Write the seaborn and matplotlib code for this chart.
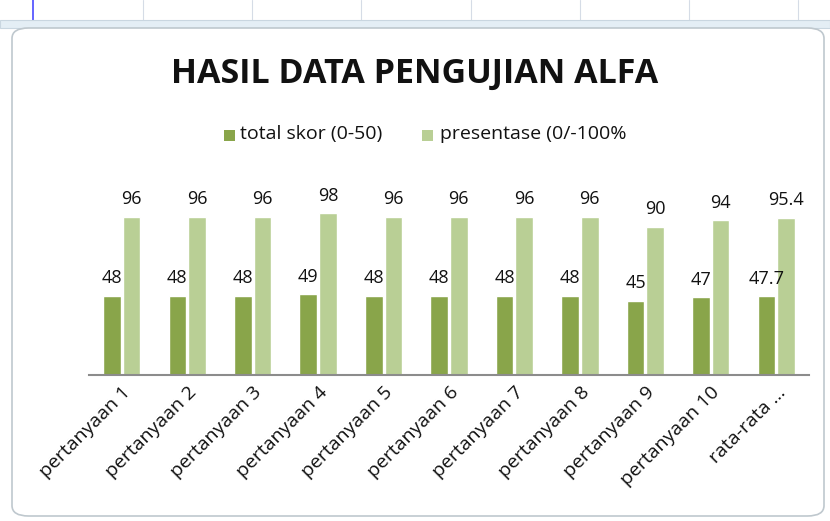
import numpy as np
import pandas as pd
import matplotlib.pyplot as plt
import seaborn as sns
from matplotlib.patches import FancyBboxPatch, Rectangle

categories = ["pertanyaan 1", "pertanyaan 2", "pertanyaan 3", "pertanyaan 4", "pertanyaan 5",
              "pertanyaan 6", "pertanyaan 7", "pertanyaan 8", "pertanyaan 9", "pertanyaan 10",
              "rata-rata ..."]
total_skor = [48, 48, 48, 49, 48, 48, 48, 48, 45, 47, 47.7]
presentase = [96, 96, 96, 98, 96, 96, 96, 96, 90, 94, 95.4]
series_names = ["total skor (0-50)", "presentase (0/-100%"]
colors = ["#89A54A", "#B9CF95"]

df = pd.DataFrame({"kategori": categories, series_names[0]: total_skor, series_names[1]: presentase})
df = df.melt(id_vars="kategori", var_name="seri", value_name="nilai")

sns.set_style("white")
plt.rcParams['font.family'] = ['Open Sans', 'DejaVu Sans']

fig = plt.figure(figsize=(8.3, 5.21), dpi=100)

# spreadsheet look around the chart
fig.patches.append(Rectangle((0, 0.946), 1, 0.016, transform=fig.transFigure,
                             facecolor="#E4EEF5", edgecolor="#C9D6E0", lw=0.8, zorder=-10))
for gx in [143, 252, 361, 471, 580, 689, 798]:
    fig.add_artist(plt.Line2D([gx / 830, gx / 830], [0.962, 1], color="#D5DCE6", lw=0.8, zorder=-10))
fig.add_artist(plt.Line2D([33 / 830, 33 / 830], [0.962, 1], color="#4A4AFF", lw=1.2, zorder=-10))
fig.patches.append(FancyBboxPatch((12 / 830, 5 / 521), 812 / 830, 488 / 521,
                                  boxstyle="round,pad=0,rounding_size=0.02",
                                  transform=fig.transFigure, facecolor="white",
                                  edgecolor="#BFC8CE", lw=1.2, zorder=-10))

ax = fig.add_axes([89 / 830, 146 / 521, 720 / 830, 165 / 521])
ax.set_zorder(5)
ax.patch.set_alpha(0)
sns.barplot(data=df, x="kategori", y="nilai", hue="seri", palette=colors, saturation=1,
            width=0.6, gap=0.1, ax=ax, legend=False)

for cont in ax.containers:
    labels = [f"{v:g}" for v in cont.datavalues]
    ax.bar_label(cont, labels=labels, padding=6, fontsize=13, color="#111111")

ax.set_ylim(0, 100)
ax.set_xlim(-0.5, 10.5)
ax.set_xlabel("")
ax.set_ylabel("")
ax.set_yticks([])
for s in ["top", "right", "left"]:
    ax.spines[s].set_visible(False)
ax.spines["bottom"].set_color("#8C8C8C")
ax.spines["bottom"].set_linewidth(1.5)
ax.tick_params(axis="x", length=0, pad=6)
plt.setp(ax.get_xticklabels(), rotation=45, ha="right", rotation_mode="anchor",
         fontsize=14, color="#111111")

fig.text(0.5, 0.858, "HASIL DATA PENGUJIAN ALFA", ha="center", va="center",
         fontsize=24.5, fontweight="bold", color="#111111")

# legend
leg_y = 0.742
fig.patches.append(Rectangle((224 / 830, leg_y - 0.012), 11 / 830, 11 / 521,
                             transform=fig.transFigure, facecolor=colors[0], edgecolor="none"))
fig.text(240 / 830, leg_y, series_names[0], va="center", fontsize=14, color="#111111")
fig.patches.append(Rectangle((422 / 830, leg_y - 0.012), 11 / 830, 11 / 521,
                             transform=fig.transFigure, facecolor=colors[1], edgecolor="none"))
fig.text(440 / 830, leg_y, series_names[1], va="center", fontsize=14, color="#111111")

plt.savefig("out.png", dpi=100)
plt.close()
